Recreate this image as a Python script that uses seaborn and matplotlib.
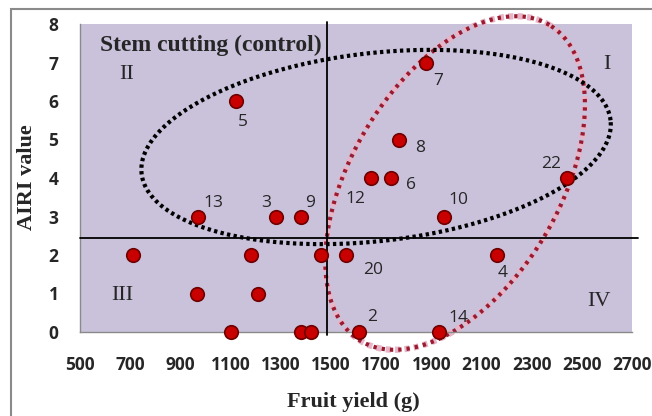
import numpy as np
import pandas as pd
import matplotlib
matplotlib.use("Agg")
import matplotlib.pyplot as plt
import seaborn as sns
from matplotlib.patches import Rectangle

# data
fruit_yield = [970, 1280, 1380, 1120, 1880, 1770, 1660, 1740, 1950, 2440,
               710, 1180, 1460, 1560, 2160, 965, 1210, 1100, 1380, 1420, 1610, 1930]
airi = [3, 3, 3, 6, 7, 5, 4, 4, 3, 4,
        2, 2, 2, 2, 2, 1, 1, 0, 0, 0, 0, 0]
genotype = ['13', '3', '9', '5', '7', '8', '12', '6', '10', '22',
            '', '', '', '20', '4', '', '', '', '', '', '2', '14']
# label offsets (points)
label_dx = [4, -3, 3, 2, 5, 12, -4, 11, 3, -4, 0, 0, 0, 12, 1, 0, 0, 0, 0, 0, 6, 7]
label_dy = [10, 10, 10, -15, -13, -6, -15, -5, 12, 10, 0, 0, 0, -11, -13, 0, 0, 0, 0, 0, 11, 10]

x_ticks = list(range(500, 2701, 200))
y_ticks = list(range(0, 9))
control_x = 1485
control_y = 2.44

df = pd.DataFrame({'yield': fruit_yield, 'airi': airi, 'label': genotype})

sns.set_style("white")
W, H = 652, 416
fig = plt.figure(figsize=(W / 100, H / 100), dpi=100)
ax_l, ax_r, ax_t, ax_b = 80, 632, 24, 332
ax = fig.add_axes([ax_l / W, 1 - ax_b / H, (ax_r - ax_l) / W, (ax_b - ax_t) / H])
ax.set_facecolor('#CAC2DB')

ax.set_xlim(500, 2700)
ax.set_ylim(0, 8)

# outer frame
fig.add_artist(Rectangle((11 / W, -0.1), 1.2, 1.1 - 9 / H, fill=False,
                         edgecolor='#8a8a8a', linewidth=1.5, transform=fig.transFigure))

# quadrant lines
ax.axhline(control_y, xmin=0, xmax=1.01, color='black', lw=1.3, clip_on=False, zorder=3)
ax.axvline(control_x, ymin=-0.01, ymax=1.005, color='black', lw=1.3, clip_on=False, zorder=3)

# ellipses (center in data, half axes in pixels)
px_x = (ax_r - ax_l) / 2200
px_y = (ax_b - ax_t) / 8


def ellipse(cx, cy, a, b, ang):
    t = np.linspace(0, 2 * np.pi, 400)
    th = np.radians(ang)
    u = a * np.cos(t) * np.cos(th) - b * np.sin(t) * np.sin(th)
    v = a * np.cos(t) * np.sin(th) + b * np.sin(t) * np.cos(th)
    return cx + u / px_x, cy + v / px_y


ex, ey = ellipse(1995, 3.87, 184, 104, 59.2)
ax.plot(ex, ey, color='#E8B5C8', lw=4.5, ls=(0, (0.8, 0.7)), clip_on=False, zorder=2)
ax.plot(ex, ey, color='#9A1B30', lw=3, ls=(0, (0.8, 1.2)), clip_on=False, zorder=2)
ex, ey = ellipse(1680, 4.805, 236, 94, 6.5)
ax.plot(ex, ey, color='black', lw=3, ls=(0, (0.8, 0.8)), clip_on=False, zorder=2)

# points
sns.scatterplot(data=df, x='yield', y='airi', ax=ax, s=95, color='#C80000',
                edgecolor='#6E0000', linewidth=1.2, zorder=5, clip_on=False)

for xi, yi, lab, dx, dy in zip(fruit_yield, airi, genotype, label_dx, label_dy):
    if lab:
        ax.annotate(lab, (xi, yi), xytext=(dx, dy), textcoords='offset points',
                    fontsize=12.5, family='Open Sans', ha='left' if dx > 0 else 'right',
                    va='center', zorder=6)

serif = 'Liberation Serif'
ax.text(580, 7.45, 'Stem cutting (control)', fontsize=17, family=serif,
        fontweight='bold', va='center', ha='left')
ax.text(687, 6.68, 'II', fontsize=16, family=serif, ha='center', va='center')
ax.text(2600, 6.94, 'I', fontsize=16, family=serif, ha='center', va='center')
ax.text(667, 0.96, 'III', fontsize=16, family=serif, ha='center', va='center')
ax.text(2569, 0.78, 'IV', fontsize=16, family=serif, ha='center', va='center')

ax.set_xticks(x_ticks)
ax.set_yticks(y_ticks)
ax.set_xticklabels([str(v) for v in x_ticks], fontsize=12.5, family='Open Sans', fontweight='bold')
ax.set_yticklabels([str(v) for v in y_ticks], fontsize=12.5, family='Open Sans', fontweight='bold')
ax.tick_params(axis='x', direction='out', length=5, width=1, color='#8a8a8a', pad=12)
ax.tick_params(axis='y', direction='out', length=6, width=1, color='#8a8a8a', pad=9.5)

for s in ['top', 'right']:
    ax.spines[s].set_visible(False)
for s in ['left', 'bottom']:
    ax.spines[s].set_color('#8a8a8a')
    ax.spines[s].set_linewidth(1)

ax.set_xlabel('Fruit yield (g)', fontsize=16, family=serif, fontweight='bold')
ax.set_ylabel('AIRI value', fontsize=16, family=serif, fontweight='bold')
ax.xaxis.set_label_coords(0.495, -0.195)
ax.yaxis.set_label_coords(-0.078, 0.503)

fig.savefig('out.png', dpi=100)
